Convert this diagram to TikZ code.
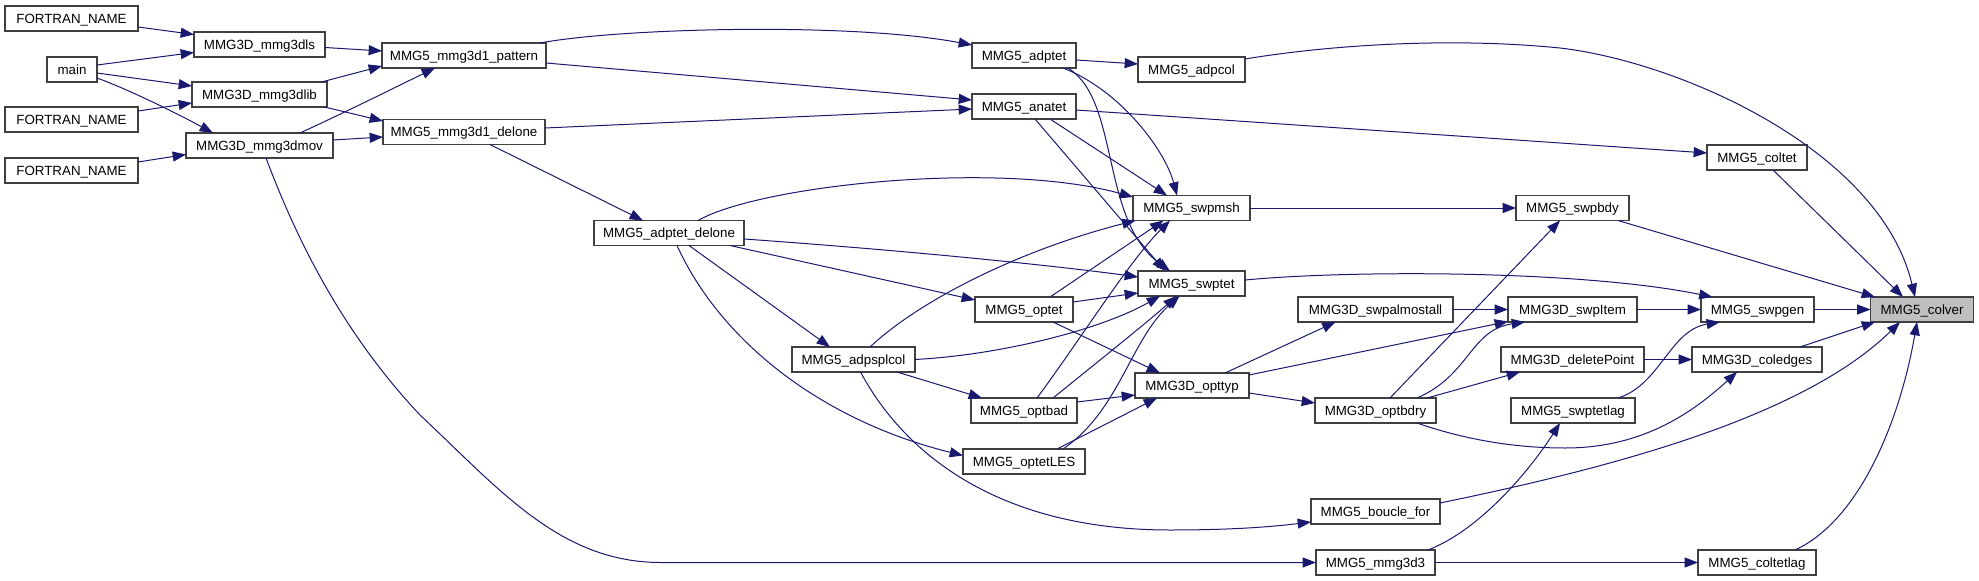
\documentclass[tikz,border=0pt]{standalone}
\usepackage{fontspec}
\setmainfont{Liberation Sans}
\usetikzlibrary{arrows.meta,calc}
\definecolor{edgecol}{RGB}{25,25,112}
\definecolor{boxcol}{RGB}{64,64,64}
\definecolor{colvergray}{RGB}{191,191,191}
\begin{document}
\begin{tikzpicture}[x=0.75pt,y=-0.75pt,
  box/.style={draw=boxcol,line width=1pt,fill=white,inner sep=0pt,outer sep=0pt,
    minimum height=18.75pt,text height=7.5pt,text depth=0.5pt,
    font=\fontsize{10}{12}\selectfont,text=black},
  edge/.style={draw=edgecol,line width=0.75pt,-{Triangle[length=10pt,width=7.5pt]}}]
\useasboundingbox (0,0) rectangle (1979,581);
% nodes
\node[box,minimum width=99.75pt] (F1) at (71.5,18.5) {FORTRAN\_NAME};
\node[box,minimum width=98.25pt] (mmg3dls) at (259.5,44.5) {MMG3D\_mmg3dls};
\node[box,minimum width=37.5pt] (main) at (72,69.5) {main};
\node[box,minimum width=101.25pt] (mmg3dlib) at (259.5,94.5) {MMG3D\_mmg3dlib};
\node[box,minimum width=99.75pt] (F2) at (71.5,119.5) {FORTRAN\_NAME};
\node[box,minimum width=110.25pt] (mmg3dmov) at (259.5,145.5) {MMG3D\_mmg3dmov};
\node[box,minimum width=99.75pt] (F3) at (71.5,170.5) {FORTRAN\_NAME};
\node[box,minimum width=123pt] (pattern) at (464,55.5) {MMG5\_mmg3d1\_pattern};
\node[box,minimum width=121.5pt] (delone) at (464,132) {MMG5\_mmg3d1\_delone};
\node[box,minimum width=112.5pt] (adptetdelone) at (669,233) {MMG5\_adptet\_delone};
\node[box,minimum width=92.25pt] (adpsplcol) at (853.5,359.5) {MMG5\_adpsplcol};
\node[box,minimum width=78pt] (adptet) at (1024,55.5) {MMG5\_adptet};
\node[box,minimum width=78pt] (anatet) at (1024,106.5) {MMG5\_anatet};
\node[box,minimum width=73.5pt] (optet) at (1024,309.5) {MMG5\_optet};
\node[box,minimum width=79.5pt] (optbad) at (1024,410.5) {MMG5\_optbad};
\node[box,minimum width=91.5pt] (optetLES) at (1024,461.5) {MMG5\_optetLES};
\node[box,minimum width=80.25pt] (adpcol) at (1191.5,69.5) {MMG5\_adpcol};
\node[box,minimum width=87.75pt] (swpmsh) at (1191.5,208) {MMG5\_swpmsh};
\node[box,minimum width=80.25pt] (swptet) at (1191.5,283.5) {MMG5\_swptet};
\node[box,minimum width=85.5pt] (opttyp) at (1192,385.5) {MMG3D\_opttyp};
\node[box,minimum width=116.25pt] (swpalmostall) at (1375.5,309.5) {MMG3D\_swpalmostall};
\node[box,minimum width=90.75pt] (optbdry) at (1375.5,410.5) {MMG3D\_optbdry};
\node[box,minimum width=96.75pt] (bouclefor) at (1375.5,511.5) {MMG5\_boucle\_for};
\node[box,minimum width=89.25pt] (mmgthree) at (1375.5,562.5) {MMG5\_mmg3d3};
\node[box,minimum width=75pt] (coltet) at (1757,157.5) {MMG5\_coltet};
\node[box,minimum width=84.75pt] (swpbdy) at (1572.5,208) {MMG5\_swpbdy};
\node[box,minimum width=96.75pt] (swpItem) at (1572.5,309.5) {MMG3D\_swpItem};
\node[box,minimum width=107.25pt] (deletePoint) at (1572.5,359.5) {MMG3D\_deletePoint};
\node[box,minimum width=93pt] (swptetlag) at (1573,410.5) {MMG5\_swptetlag};
\node[box,minimum width=84.75pt] (swpgen) at (1757.5,309.5) {MMG5\_swpgen};
\node[box,minimum width=97.5pt] (coledges) at (1757,359.5) {MMG3D\_coledges};
\node[box,minimum width=88.5pt] (coltetlag) at (1757,562.5) {MMG5\_coltetlag};
\node[box,minimum width=77.25pt,fill=colvergray] (colver) at (1922,309.5) {MMG5\_colver};
% edges, left part
\draw[edge] ($(F1)+(66.5,8.5)$) -- ($(mmg3dls)+(-65.5,-10)$);
\draw[edge] ($(main)+(25,-4.5)$) -- ($(mmg3dls)+(-65.5,8)$);
\draw[edge] ($(main)+(25,3.5)$) -- ($(mmg3dlib)+(-67.5,-8.5)$);
\draw[edge] ($(main)+(25,8.5)$) .. controls (130,90) and (180,115) .. ($(mmg3dmov)+(-46.5,-12.5)$);
\draw[edge] ($(F2)+(66.5,-8.5)$) -- ($(mmg3dlib)+(-67.5,8.5)$);
\draw[edge] ($(F3)+(66.5,-8.5)$) -- ($(mmg3dmov)+(-73.5,9)$);
\draw[edge] ($(mmg3dls)+(65.5,3)$) -- ($(pattern)+(-82,-4.5)$);
\draw[edge] ($(mmg3dlib)+(62,-12.5)$) -- ($(pattern)+(-82,10.5)$);
\draw[edge] ($(mmg3dlib)+(65,12.5)$) -- ($(delone)+(-81,-11)$);
\draw[edge] ($(mmg3dmov)+(40.5,-12.5)$) .. controls (350,110) and (400,85) .. ($(pattern)+(-29,12.5)$);
\draw[edge] ($(mmg3dmov)+(73.5,-5.5)$) -- ($(delone)+(-81,5)$);
\draw[edge] ($(mmg3dmov)+(6.5,12.5)$) .. controls (295,235) and (340,330) .. (420,415)
   .. controls (500,490) and (560,562) .. (660,562.5) -- (mmgthree.west);
% pattern / delone
\draw[edge] ($(pattern)+(76,-12.5)$) .. controls (620,28) and (850,22) .. ($(adptet)+(-52,-10.5)$);
\draw[edge] ($(pattern)+(82,7.5)$) -- ($(anatet)+(-52,-6.5)$);
\draw[edge] ($(delone)+(81,-4)$) -- ($(anatet)+(-52,2.5)$);
\draw[edge] ($(delone)+(26,12.5)$) -- ($(adptetdelone)+(-26,-12.5)$);
% adptet_delone
\draw[edge] ($(adptetdelone)+(29,-12.5)$) .. controls (760,185) and (1000,160) .. ($(swpmsh)+(-58.5,-11)$);
\draw[edge] ($(adptetdelone)+(75,6)$) .. controls (900,250) and (1050,265) .. ($(swptet)+(-53.5,-6.5)$);
\draw[edge] ($(adptetdelone)+(61,12.5)$) -- ($(optet)+(-49,-9.5)$);
\draw[edge] ($(adptetdelone)+(20,12.5)$) -- ($(adpsplcol)+(-23.5,-12.5)$);
\draw[edge] ($(adptetdelone)+(8,12.5)$) .. controls (720,340) and (820,420) .. ($(optetLES)+(-61,-6)$);
% adpsplcol
\draw[edge] ($(adpsplcol)+(16.5,-12.5)$) .. controls (920,300) and (1020,250) .. ($(swpmsh)+(-56,12.5)$);
\draw[edge] ($(adpsplcol)+(61.5,0)$) .. controls (1000,355) and (1100,330) .. ($(swptet)+(-31.5,12.5)$);
\draw[edge] ($(adpsplcol)+(43.5,12.5)$) -- ($(optbad)+(-42,-12.5)$);
\draw[edge] ($(adpsplcol)+(7,12.5)$) .. controls (905,455) and (1000,530) .. (1170,530)
   .. controls (1230,530) and (1270,527) .. ($(bouclefor)+(-64.5,10.5)$);
% optet, optbad, optetLES
\draw[edge] ($(optet)+(49,-7.5)$) -- ($(swptet)+(-53.5,9.5)$);
\draw[edge] ($(optet)+(26,-12.5)$) -- ($(swpmsh)+(-28,12.5)$);
\draw[edge] ($(optet)+(29,12.5)$) -- ($(opttyp)+(-32,-12.5)$);
\draw[edge] ($(optbad)+(53,-8.5)$) -- ($(opttyp)+(-57,9.5)$);
\draw[edge] ($(optbad)+(13,-12.5)$) .. controls (1080,340) and (1130,260) .. ($(swpmsh)+(-21.5,12.5)$);
\draw[edge] ($(optbad)+(29,-12.5)$) .. controls (1100,360) and (1150,320) .. ($(swptet)+(-15,12.5)$);
\draw[edge] ($(optetLES)+(33,-12.5)$) -- ($(opttyp)+(-35,12.5)$);
\draw[edge] ($(optetLES)+(39,-12.5)$) .. controls (1120,410) and (1130,340) .. ($(swptet)+(-12,12.5)$);
% adptet, anatet
\draw[edge] ($(adptet)+(52,4.5)$) -- ($(adpcol)+(-53.5,-5.5)$);
\draw[edge] ($(adptet)+(39,12.5)$) .. controls (1120,90) and (1165,150) .. ($(swpmsh)+(-14.5,-12.5)$);
\draw[edge] ($(adptet)+(44,12.5)$) .. controls (1120,100) and (1100,220) .. ($(swptet)+(-21.5,-12.5)$);
\draw[edge] ($(anatet)+(26,12.5)$) -- ($(swpmsh)+(-24.5,-12.5)$);
\draw[edge] ($(anatet)+(11,12.5)$) -- ($(swptet)+(-26.5,-12.5)$);
\draw[edge] ($(anatet)+(52,3.5)$) -- ($(coltet)+(-50,-4.5)$);
% middle
\draw[edge] (swpmsh.east) -- (swpbdy.west);
\draw[edge] ($(swptet)+(53.5,-3.5)$) .. controls (1350,270) and (1580,270) .. ($(swpgen)+(-45,-12.5)$);
\draw[edge] ($(opttyp)+(33,-12.5)$) -- ($(swpalmostall)+(-40,12.5)$);
\draw[edge] ($(opttyp)+(57,-10.5)$) -- ($(swpItem)+(-64.5,12)$);
\draw[edge] ($(opttyp)+(57,7.5)$) -- ($(optbdry)+(-60.5,-7.5)$);
\draw[edge] (swpalmostall.east) -- (swpItem.west);
\draw[edge] (swpItem.east) -- (swpgen.west);
\draw[edge] (swpgen.east) -- (colver.west);
\draw[edge] ($(optbdry)+(14.5,-12.5)$) -- ($(swpbdy)+(-12.5,12.5)$);
\draw[edge] ($(optbdry)+(41.5,-12.5)$) .. controls (1470,375) and (1470,330) .. ($(swpItem)+(-47.5,12.5)$);
\draw[edge] ($(optbdry)+(51.5,-12.5)$) -- ($(deletePoint)+(-52.5,12.5)$);
\draw[edge] ($(optbdry)+(41.5,12.5)$) .. controls (1460,438) and (1510,448) .. (1565,448)
   .. controls (1640,448) and (1690,415) .. ($(coledges)+(-20,12.5)$);
\draw[edge] (deletePoint.east) -- (coledges.west);
\draw[edge] ($(coledges)+(43,-12.5)$) -- ($(colver)+(-47,12.5)$);
\draw[edge] ($(swptetlag)+(45,-12.5)$) .. controls (1660,385) and (1670,330) .. ($(swpgen)+(-37.5,12.5)$);
\draw[edge] ($(coltet)+(16,12.5)$) -- ($(colver)+(-19,-12.5)$);
\draw[edge] ($(swpbdy)+(45.5,12.5)$) -- ($(colver)+(-47,-12.5)$);
\draw[edge] ($(adpcol)+(53.5,-10.5)$) .. controls (1330,45) and (1450,37) .. (1560,48)
   .. controls (1680,62) and (1880,150) .. ($(colver)+(-7,-12.5)$);
\draw[edge] ($(bouclefor)+(64.5,-8.5)$) .. controls (1600,470) and (1800,420) .. ($(colver)+(-22,12.5)$);
\draw[edge] ($(coltetlag)+(38,-12.5)$) .. controls (1860,520) and (1900,420) .. ($(colver)+(-5,12.5)$);
\draw[edge] (mmgthree.east) -- (coltetlag.west);
\draw[edge] ($(mmgthree)+(52.5,-12.5)$) .. controls (1480,530) and (1530,470) .. ($(swptetlag)+(-13,12.5)$);
\end{tikzpicture}
\end{document}
